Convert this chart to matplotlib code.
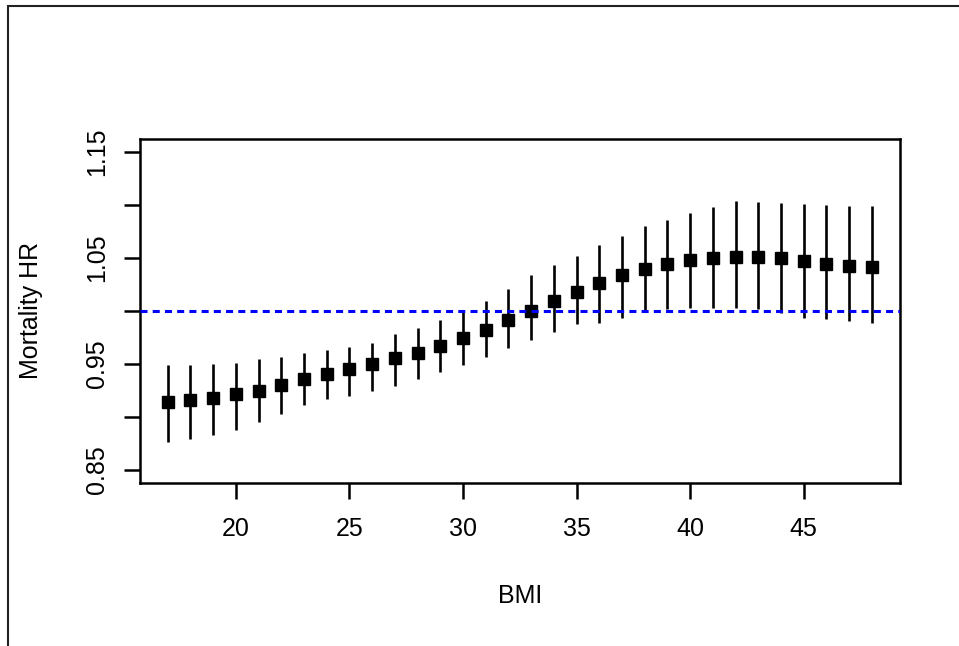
import numpy as np
import matplotlib
matplotlib.use("Agg")
import matplotlib.pyplot as plt
from matplotlib.patches import Rectangle

plt.rcParams['font.family'] = ['Liberation Sans', 'DejaVu Sans']

# BMI values and hazard ratio estimates
bmi = np.arange(17, 49)
hr = [0.9145, 0.9158, 0.918, 0.9214, 0.9245, 0.930, 0.9356, 0.940,
      0.9456, 0.9503, 0.9554, 0.9607, 0.9667, 0.974, 0.9824, 0.9912,
      1.000, 1.0094, 1.018, 1.026, 1.0337, 1.0393, 1.0443, 1.0478,
      1.050, 1.051, 1.051, 1.0494, 1.0472, 1.044, 1.0425, 1.041]
lower = [0.876, 0.879, 0.8827, 0.8875, 0.8953, 0.9025, 0.911, 0.9167,
         0.9198, 0.9245, 0.929, 0.936, 0.9419, 0.949, 0.9566, 0.9648,
         0.9724, 0.980, 0.9875, 0.989, 0.9937, 1.000, 1.0016, 1.003,
         1.003, 1.003, 1.0016, 0.998, 0.9937, 0.992, 0.990, 0.9884]
upper = [0.949, 0.9485, 0.9497, 0.9513, 0.9544, 0.9566, 0.9598, 0.963,
         0.966, 0.970, 0.9786, 0.9843, 0.9915, 0.9994, 1.0094, 1.0208,
         1.034, 1.0434, 1.052, 1.062, 1.0708, 1.0796, 1.0859, 1.0919,
         1.098, 1.1038, 1.103, 1.102, 1.1007, 1.0997, 1.099, 1.0985]

W, H = 959, 646
fig = plt.figure(figsize=(W / 100, H / 100), dpi=100)
ax = fig.add_axes([139.5 / W, 1 - 482.7 / H, (900 - 139.5) / W, (482.7 - 139) / H])

hr = np.array(hr)
yerr = [hr - np.array(lower), np.array(upper) - hr]
ax.errorbar(bmi, hr, yerr=yerr, fmt='s', ms=9.2, color='black',
            ecolor='black', elinewidth=1.9, capsize=0, zorder=2)
ax.axhline(1.0, color='#0000FF', lw=2.2, ls=(0, (2.3, 1.7)), zorder=3)

ax.set_xlim(15.76, 49.24)
ax.set_ylim(0.838, 1.162)
ax.set_xticks([20, 25, 30, 35, 40, 45])
ax.set_yticks([0.85, 0.95, 1.05, 1.15])
ax.set_yticklabels(['0.85', '0.95', '1.05', '1.15'])
ax.set_yticks([0.90, 1.00, 1.10], minor=True)

for s in ax.spines.values():
    s.set_linewidth(1.8)
ax.tick_params(which='both', direction='out', length=11.5, width=1.8,
               labelsize=18, color='black')
ax.tick_params(axis='x', pad=13)
ax.tick_params(axis='y', pad=10.5)
plt.setp(ax.get_yticklabels(), rotation=90, va='center')

ax.set_xlabel('BMI', fontsize=18)
ax.set_ylabel('Mortality HR', fontsize=18)
ax.xaxis.label.set_va('center')
ax.yaxis.label.set_va('center')
ax.xaxis.set_label_coords(0.5, -(596 - 482.7) / (482.7 - 139))
ax.yaxis.set_label_coords((31 - 139.5) / (900 - 139.5), 0.5)

# outer frame (only left and top edges visible in the picture)
fig.add_artist(Rectangle((8 / W, -0.1), 1.2, (H - 6) / H + 0.1,
                         transform=fig.transFigure, fill=False,
                         lw=1.5, edgecolor='#222222'))

fig.savefig('out.png', dpi=100)
